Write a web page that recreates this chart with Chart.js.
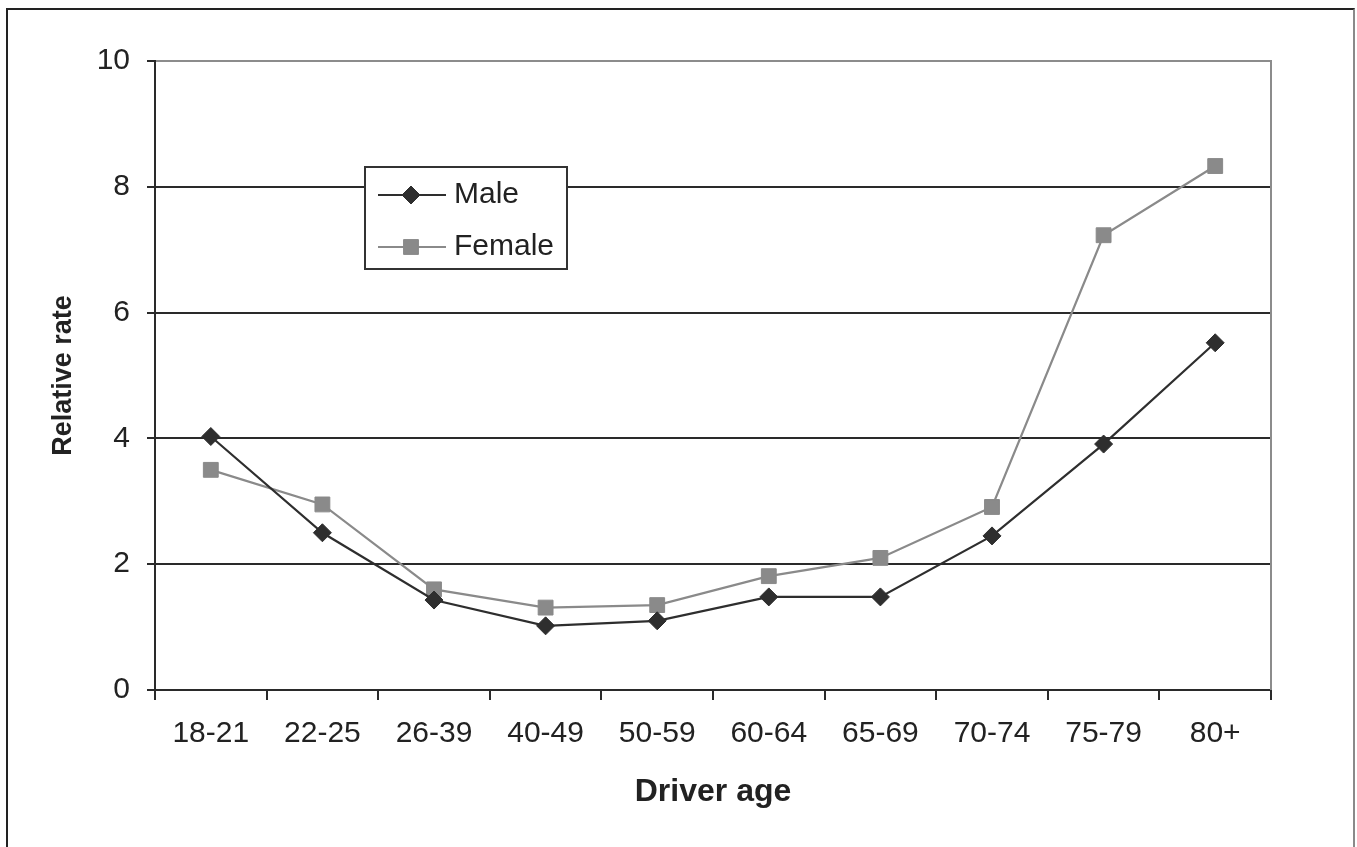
<!DOCTYPE html>
<html>
<head>
<meta charset="utf-8">
<script src="https://cdn.jsdelivr.net/npm/chart.js@4/dist/chart.umd.min.js"></script>
<style>
html,body{margin:0;padding:0;background:#fff;overflow:hidden}
#wrap{position:relative;width:1357px;height:847px}
#frame{position:absolute;left:6px;top:8px;width:1349px;height:900px;box-sizing:border-box;
border-left:2px solid #222;border-top:2px solid #222;border-right:2px solid #8a8a8a;pointer-events:none}
canvas{position:absolute;left:0;top:0}
</style>
</head>
<body>
<div id="wrap">
<canvas id="chart" width="1357" height="847"></canvas>
<div id="frame"></div>
</div>
<script>
const ages = ["18-21","22-25","26-39","40-49","50-59","60-64","65-69","70-74","75-79","80+"]
const male = [4.03, 2.50, 1.43, 1.02, 1.10, 1.48, 1.48, 2.45, 3.91, 5.52]
const female = [3.50, 2.95, 1.60, 1.31, 1.35, 1.81, 2.10, 2.91, 7.23, 8.33]
const yTicks = [0, 2, 4, 6, 8, 10]

const FONT = "'Liberation Sans', Arial, Helvetica, sans-serif"
const DARK = '#2a2a2a'
const MALE_C = '#2e2e2e'
const FEMALE_C = '#8a8a8a'

// legend box sitting inside the plot, like the original
const boxLegend = {
id:'boxLegend',
afterDatasetsDraw(chart){
const ctx = chart.ctx
const a = chart.chartArea
const x = a.left + 210, y = a.top + 106, w = 202, h = 102
ctx.save()
ctx.fillStyle = '#fff'
ctx.fillRect(x, y, w, h)
ctx.strokeStyle = '#333'
ctx.lineWidth = 2
ctx.strokeRect(x, y, w, h)
chart.data.datasets.forEach((ds, i) => {
const cy = y + 28 + i * 52
ctx.strokeStyle = ds.borderColor
ctx.lineWidth = ds.borderWidth
ctx.beginPath()
ctx.moveTo(x + 13, cy)
ctx.lineTo(x + 81, cy)
ctx.stroke()
ctx.fillStyle = ds.pointBackgroundColor
ctx.strokeStyle = ds.pointBorderColor
ctx.lineWidth = 1
Chart.helpers.drawPoint(ctx, {pointStyle: ds.pointStyle, radius: ds.pointRadius, rotation: 0, borderWidth: 1}, x + 46, cy)
ctx.fillStyle = '#222'
ctx.font = "30px " + FONT
ctx.textBaseline = 'middle'
ctx.textAlign = 'left'
ctx.fillText(ds.label, x + 89, cy)
})
ctx.restore()
}
}

// gray right edge of the plot area
const plotEdge = {
id:'plotEdge',
beforeDatasetsDraw(chart){
const ctx = chart.ctx
const a = chart.chartArea
ctx.save()
ctx.strokeStyle = '#8c8c8c'
ctx.lineWidth = 2
ctx.beginPath()
ctx.moveTo(a.right, a.top - 1)
ctx.lineTo(a.right, a.bottom)
ctx.stroke()
ctx.restore()
}
}

new Chart(document.getElementById("chart"),{
type:'line',
data:{
labels:ages,
datasets:[{
label:'Male',
data:male,
borderColor:MALE_C,
backgroundColor:MALE_C,
pointBackgroundColor:MALE_C,
pointBorderColor:MALE_C,
borderWidth:2.2,
pointStyle:'rectRot',
pointRadius:9,
pointBorderWidth:1,
tension:0
},{
label:'Female',
data:female,
borderColor:FEMALE_C,
backgroundColor:FEMALE_C,
pointBackgroundColor:FEMALE_C,
pointBorderColor:FEMALE_C,
borderWidth:2.2,
pointStyle:'rect',
pointRadius:10.5,
pointBorderWidth:1,
tension:0
}]
},
options:{
responsive:false,
animation:false,
devicePixelRatio:1,
layout:{padding:{left:0, top:61, right:86, bottom:0}},
plugins:{legend:{display:false}, tooltip:{enabled:false}},
scales:{
x:{
offset:true,
grid:{offset:true, drawOnChartArea:false, tickLength:10, color:DARK, lineWidth:2},
border:{color:DARK, width:2},
ticks:{font:{size:30, family:FONT}, color:'#222', padding:16, maxRotation:0},
title:{display:true, text:'Driver age', color:'#222', font:{size:32, weight:'bold', family:FONT}, padding:{top:0, bottom:36}},
afterFit(s){ s.height = 157 }
},
y:{
min:0,
max:10,
afterBuildTicks(s){ s.ticks = yTicks.map(v => ({value:v})) },
grid:{
color: c => (c.tick && c.tick.value === 10) ? '#8c8c8c' : DARK,
tickColor:DARK,
lineWidth:2,
tickLength:8
},
border:{color:DARK, width:2},
ticks:{font:{size:30, family:FONT}, color:'#222', padding:17},
title:{display:true, text:'Relative rate', color:'#222', font:{size:27, weight:'bold', family:FONT}, padding:{top:47, bottom:0}},
afterFit(s){ s.width = 155 }
}
}
},
plugins:[plotEdge, boxLegend]
})
</script>
</body>
</html>
